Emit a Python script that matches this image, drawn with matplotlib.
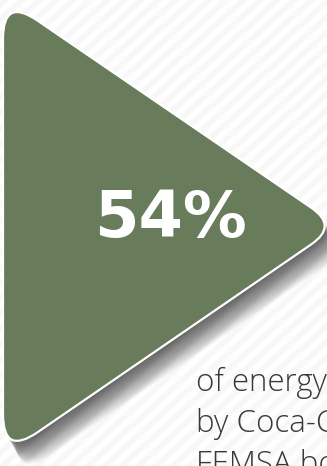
import numpy as np
import matplotlib.pyplot as plt
from matplotlib.path import Path
from matplotlib.patches import PathPatch

# 数据
value_label = "54%"
caption_lines = ["of energy used", "by Coca-Cola", "FEMSA bottlers"]

green = "#687b5a"
W, H = 327, 466

# 三角形顶点（像素坐标，y向下）
tri = np.array([[3.0, -3.0], [338.0, 226.0], [3.0, 456.0]])
radius = 22


def rounded_path(pts, r):
    n = len(pts)
    verts, codes = [], []
    for i in range(n):
        p = pts[i]
        a = pts[i - 1]
        b = pts[(i + 1) % n]
        va = (a - p) / np.linalg.norm(a - p)
        vb = (b - p) / np.linalg.norm(b - p)
        ang = np.arccos(np.clip(np.dot(va, vb), -1, 1))
        d = r / np.tan(ang / 2)
        p1 = p + va * d
        p2 = p + vb * d
        if i == 0:
            verts.append(p1); codes.append(Path.MOVETO)
        else:
            verts.append(p1); codes.append(Path.LINETO)
        verts += [p, p2]; codes += [Path.CURVE3, Path.CURVE3]
    verts.append(verts[0]); codes.append(Path.CLOSEPOLY)
    return Path(np.array(verts), codes)


fig = plt.figure(figsize=(W / 100, H / 100), dpi=100)
ax = fig.add_axes([0, 0, 1, 1])
ax.set_xlim(0, W)
ax.set_ylim(H, 0)
ax.axis("off")

# 背景斜纹
yy, xx = np.mgrid[0:H, 0:W]
stripe = 0.5 + 0.5 * np.sin(2 * np.pi * (xx + yy * 1.1) / 17.0)
bg = 1.0 - 0.035 * stripe
ax.imshow(bg, cmap="gray", vmin=0, vmax=1, extent=(0, W, H, 0), zorder=0,
          interpolation="bilinear")

# 阴影
for k in range(1, 22):
    sh = rounded_path(tri + np.array([k * 0.6, k * 1.1]), radius)
    ax.add_patch(PathPatch(sh, facecolor="#000000", edgecolor="none",
                           alpha=0.038, zorder=1))

# 三角形
ax.add_patch(PathPatch(rounded_path(tri, radius), facecolor=green,
                       edgecolor="white", linewidth=1.6, zorder=2))

ax.text(170, 219, value_label, color="white", fontsize=46, fontweight="bold",
        family="DejaVu Sans", ha="center", va="center", zorder=3)

for i, line in enumerate(caption_lines):
    ax.text(196, 391 + i * 41, line, color="#383838", fontsize=22.5,
            family=["Open Sans", "DejaVu Sans"], fontweight="light",
            ha="left", va="baseline", zorder=3)

fig.savefig("out.png", dpi=100)
